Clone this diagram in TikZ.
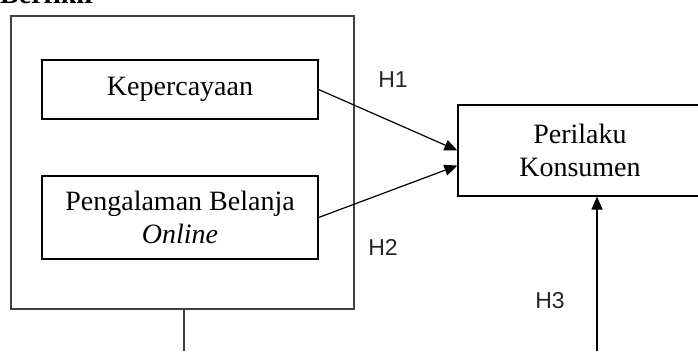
\documentclass[tikz,border=0pt]{standalone}
\usepackage{fontspec}
\setmainfont{Liberation Serif}
\newfontfamily\labelfont{Liberation Sans}
\usetikzlibrary{arrows.meta}

\tikzset{
  varbox/.style={draw=black, line width=1.2pt, align=center,
    font=\fontsize{28}{33}\selectfont, inner sep=0pt},
  groupbox/.style={draw=black!75, line width=1.5pt, inner sep=0pt},
  hypo/.style={font=\labelfont\fontsize{23}{27}\selectfont, text=black!85},
  link/.style={line width=1.2pt, -{Triangle[length=13pt,width=11pt]}},
  plain/.style={line width=1.4pt, draw=black!75}
}

\begin{document}
\begin{tikzpicture}[x=1pt, y=-1pt]
  \useasboundingbox (0,0) rectangle (698,351);

  % section heading, mostly above the page edge
  \node[anchor=base west, inner sep=0pt, font=\bfseries\fontsize{28}{33}\selectfont]
    (heading) at (0,3) {Berfikir};

  % independent variables inside their group
  \node[groupbox, minimum width=343pt, minimum height=293pt] (outer) at (182.5,162.5) {};
  \node[varbox, minimum width=276pt, minimum height=59pt] (kep) at (180,89.5) {Kepercayaan};
  \node[varbox, minimum width=276pt, minimum height=83pt] (peng) at (180,217.5)
    {Pengalaman Belanja\\\textit{Online}};

  % dependent variable
  \node[varbox, minimum width=244pt, minimum height=91pt] (per) at (580,150.5)
    {Perilaku\\Konsumen};

  % hypotheses
  \draw[link] (kep.east) -- (per.180.7);
  \draw[link] (peng.east) -- (per.187.7);

  \coordinate (groupdown) at (184,351);
  \draw[plain] (outer.south -| groupdown) -- (groupdown);

  \coordinate (h3foot) at (597,351);
  \draw[link] (h3foot) -- (h3foot |- per.south);

  \node[hypo] (h1) at (393,80) {H1};
  \node[hypo] (h2) at (383,247) {H2};
  \node[hypo] (h3) at (550,301) {H3};
\end{tikzpicture}
\end{document}
